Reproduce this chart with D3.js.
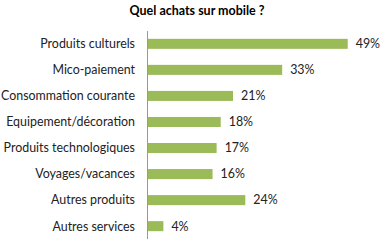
<!DOCTYPE html>
<html><head><meta charset="utf-8">
<script src="https://cdn.jsdelivr.net/npm/d3@7"></script>
<style>body{margin:0;background:#fff;}svg{display:block;}</style>
</head><body>
<script>
const categories = ["Produits culturels","Mico-paiement","Consommation courante","Equipement/décoration","Produits technologiques","Voyages/vacances","Autres produits","Autres services"];
const values = [49,33,21,18,17,16,24,4];
const title = "Quel achats sur mobile ?";

const W = 381, H = 242;
const svg = d3.select("body").append("svg").attr("width", W).attr("height", H);
const font = "Lato, 'Open Sans', sans-serif";

const x = d3.scaleLinear().domain([0, 49]).range([147, 347.7]);
const y = d3.scaleBand().domain(categories).range([31, 239]).paddingInner(0.615).paddingOuter(0.3);

const t = svg.append("text").attr("x", 197).attr("y", 15).attr("text-anchor", "middle")
  .attr("font-family", font).attr("font-weight", "bold").attr("font-size", 13)
  .attr("fill", "#000").text(title);
// fit title to ~135px width
const tw = t.node().getComputedTextLength();
t.attr("font-size", 13 * 135 / tw);

svg.selectAll("rect.bar").data(values).join("rect").attr("class","bar")
  .attr("x", x(0)).attr("y", (d,i) => y(categories[i]))
  .attr("width", d => x(d) - x(0)).attr("height", y.bandwidth())
  .attr("fill", "#9BBB59");

svg.append("line").attr("x1", 147.5).attr("x2", 147.5).attr("y1", 31).attr("y2", 239)
  .attr("stroke", "#999").attr("stroke-width", 1);

const cats = svg.selectAll("text.cat").data(categories).join("text").attr("class","cat")
  .attr("x", 135).attr("y", d => y(d) + y.bandwidth()/2).attr("dy", "0.35em")
  .attr("text-anchor", "end").attr("font-family", font).attr("font-size", 13)
  .attr("fill", "#222").text(d => d);
const cw = cats.filter(d => d === "Consommation courante").node().getComputedTextLength();
const fs = 13 * 134 / cw;
cats.attr("font-size", fs);

svg.selectAll("text.val").data(values).join("text").attr("class","val")
  .attr("x", d => x(d) + 8).attr("y", (d,i) => y(categories[i]) + y.bandwidth()/2).attr("dy", "0.35em")
  .attr("font-family", font).attr("font-size", fs).attr("fill", "#222")
  .text(d => d + "%");
</script>
</body></html>
